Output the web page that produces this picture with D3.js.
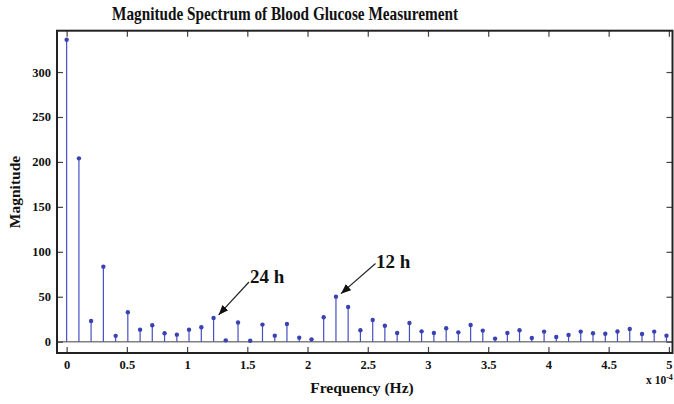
<!DOCTYPE html>
<html>
<head>
<meta charset="utf-8">
<script src="https://cdn.jsdelivr.net/npm/d3@7"></script>
<style>
  html, body { margin: 0; padding: 0; background: #fff; }
  svg { display: block; }
  text { font-family: "Liberation Serif", "Times New Roman", serif; font-weight: bold; fill: #111; }
</style>
</head>
<body>
<svg id="chart" width="674" height="404"></svg>
<script>
// ---- data ----
const frequency = [0, 0.102, 0.203, 0.305, 0.407, 0.508, 0.610, 0.711, 0.813, 0.915,
  1.016, 1.118, 1.220, 1.321, 1.423, 1.524, 1.626, 1.728, 1.829, 1.931,
  2.033, 2.134, 2.236, 2.337, 2.439, 2.541, 2.642, 2.744, 2.846, 2.947,
  3.049, 3.151, 3.252, 3.354, 3.455, 3.557, 3.659, 3.760, 3.862, 3.964,
  4.065, 4.167, 4.268, 4.370, 4.472, 4.573, 4.675, 4.777, 4.878, 4.980];
const magnitude = [336, 204, 23, 83.5, 6.5, 32.7, 13.4, 18.2, 9.3, 7.8,
  13.4, 16, 26.4, 1.5, 21.3, 1.1, 19, 6.7, 19.7, 4.5,
  2.6, 27.2, 50.1, 38.6, 12.7, 24.2, 17.8, 9.7, 20.8, 11.5,
  9.7, 14.9, 10.4, 18.6, 12.3, 3.4, 9.7, 12.7, 4.1, 11.2,
  5.2, 7.4, 11.2, 9.3, 8.9, 11.4, 14.1, 8.6, 11.2, 6.7];
const xTicks = [0, 0.5, 1, 1.5, 2, 2.5, 3, 3.5, 4, 4.5, 5];
const yTicks = [0, 50, 100, 150, 200, 250, 300];
const annotations = [
  { label: "24 h", index: 12 },
  { label: "12 h", index: 22 }
];

// ---- layout ----
const svg = d3.select("#chart");
const x = d3.scaleLinear().domain([-0.08, 5.03]).range([57, 672.5]);
const y = d3.scaleLinear().domain([-12.6, 346]).range([353, 30.7]);
const [x0, x1] = x.range();
const [y0, y1] = y.range();

// zero baseline
svg.append("line")
  .attr("x1", x0).attr("x2", x1)
  .attr("y1", y(0)).attr("y2", y(0))
  .attr("stroke", "#808080").attr("stroke-width", 1.6);

// stems
const g = svg.append("g");
g.selectAll("line.stem").data(magnitude).join("line")
  .attr("class", "stem")
  .attr("x1", (d, i) => x(frequency[i])).attr("x2", (d, i) => x(frequency[i]))
  .attr("y1", y(0)).attr("y2", d => y(d))
  .attr("stroke", "#4750bf").attr("stroke-width", 1.2);
g.selectAll("circle").data(magnitude).join("circle")
  .attr("cx", (d, i) => x(frequency[i])).attr("cy", d => y(d))
  .attr("r", 2.2).attr("fill", "#3a42b2");

// axes (ticks inward, box)
const tickLen = 6;
const axB = svg.append("g").attr("transform", `translate(0,${y0})`)
  .call(d3.axisBottom(x).tickValues(xTicks).tickSize(-tickLen).tickPadding(7)
    .tickFormat(d => d3.format("")(d)));
const axT = svg.append("g").attr("transform", `translate(0,${y1})`)
  .call(d3.axisTop(x).tickValues(xTicks).tickSize(-tickLen).tickFormat(""));
const axL = svg.append("g").attr("transform", `translate(${x0},0)`)
  .call(d3.axisLeft(y).tickValues(yTicks).tickSize(-tickLen).tickPadding(6));
const axR = svg.append("g").attr("transform", `translate(${x1},0)`)
  .call(d3.axisRight(y).tickValues(yTicks).tickSize(-tickLen).tickFormat(""));
[axB, axT, axL, axR].forEach(a => {
  a.select(".domain").remove();
  a.selectAll(".tick line").attr("stroke", "#444").attr("stroke-width", 1.2);
  a.selectAll("text").attr("font-family", "Liberation Serif, serif")
    .attr("font-weight", "bold").attr("font-size", 12.5).attr("fill", "#111");
});

// frame
svg.append("rect")
  .attr("x", x0).attr("y", y1).attr("width", x1 - x0).attr("height", y0 - y1)
  .attr("fill", "none").attr("stroke", "#222").attr("stroke-width", 2);

// title
svg.append("text")
  .attr("x", 285).attr("y", 20).attr("text-anchor", "middle")
  .attr("font-size", 19)
  .attr("textLength", 346).attr("lengthAdjust", "spacingAndGlyphs")
  .text("Magnitude Spectrum of Blood Glucose Measurement");

// axis labels
svg.append("text")
  .attr("x", 362).attr("y", 393).attr("text-anchor", "middle")
  .attr("font-size", 15.5)
  .text("Frequency (Hz)");
svg.append("text")
  .attr("transform", "translate(20,192) rotate(-90)")
  .attr("text-anchor", "middle").attr("font-size", 15.5)
  .text("Magnitude");

// exponent
const ex = svg.append("text").attr("x", 646).attr("y", 384).attr("font-size", 11.5);
ex.append("tspan").text("x 10");
ex.append("tspan").attr("dy", -4).attr("font-size", 8).text("-4");

// annotations
const defs = svg.append("defs");
defs.append("marker").attr("id", "arrow")
  .attr("viewBox", "0 0 10 10").attr("refX", 10).attr("refY", 5)
  .attr("markerWidth", 10).attr("markerHeight", 10).attr("markerUnits", "userSpaceOnUse")
  .attr("orient", "auto")
  .append("path").attr("d", "M0,1 L10,5 L0,9 Z").attr("fill", "#111");

const annPos = [
  { tx: 250, ty: 283, lx: 249, ly: 282 },
  { tx: 376, ty: 268, lx: 375.5, ly: 263.5 }
];
annotations.forEach((a, i) => {
  const p = annPos[i];
  const px = x(frequency[a.index]) + 5;
  const py = y(magnitude[a.index]) - 3;
  svg.append("line")
    .attr("x1", p.lx).attr("y1", p.ly).attr("x2", px).attr("y2", py)
    .attr("stroke", "#222").attr("stroke-width", 1.2)
    .attr("marker-end", "url(#arrow)");
  svg.append("text").attr("x", p.tx).attr("y", p.ty)
    .attr("font-size", 19).text(a.label);
});
</script>
</body>
</html>
